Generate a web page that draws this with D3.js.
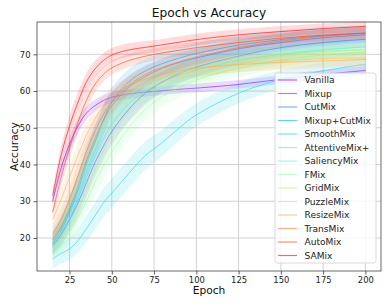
<!DOCTYPE html>
<html>
<head>
<meta charset="utf-8">
<script src="https://cdn.jsdelivr.net/npm/d3@7"></script>
<style>
  body { margin: 0; background: #fff; }
  svg { display: block; font-family: "DejaVu Sans", sans-serif; }
</style>
</head>
<body>
<svg id="chart" width="389" height="306"></svg>
<script>
// epochs at which accuracy was read
var epochs = [15, 20, 25, 30, 35, 40, 45, 50, 60, 70, 80, 90, 100, 125, 150, 175, 200];
var methods = ["Vanilla", "Mixup", "CutMix", "Mixup+CutMix", "SmoothMix", "AttentiveMix+", "SaliencyMix",
  "FMix", "GridMix", "PuzzleMix", "ResizeMix", "TransMix", "AutoMix", "SAMix"];
var xTicks = [25, 50, 75, 100, 125, 150, 175, 200];
var yTicks = [20, 30, 40, 50, 60, 70];

// mean accuracy per method
var vanilla      = [30, 39, 45.5, 50.5, 54, 56, 57.4, 58.3, 59.2, 59.7, 60.1, 60.5, 60.8, 61.8, 63.2, 64.5, 65.6];
var mixup        = [18, 21, 25, 29.5, 35, 40.5, 45, 49, 55, 59.5, 62.5, 64.8, 66.5, 69.5, 71.8, 73.2, 74.1];
var cutmix       = [19.5, 23, 28, 34, 41, 47, 52, 56, 61, 64, 66.2, 67.8, 69, 71.5, 73.2, 74.5, 75.3];
var mixupCutmix  = [18.5, 22, 27, 33, 40, 46, 52, 57, 62.5, 65.5, 67.5, 69, 70.2, 72.5, 74, 75, 75.7];
var smoothmix    = [14.3, 15.8, 17, 19.3, 22.5, 26, 29.5, 32.2, 37.5, 42.5, 46, 50, 53.5, 59.4, 63.2, 65.5, 67.3];
var attentive    = [17.5, 20.5, 25, 30.5, 36.5, 42, 47, 51, 56.5, 60, 62.5, 64.3, 65.7, 68.3, 70, 71.2, 72];
var saliencymix  = [19.5, 23.5, 28.5, 34, 40, 45.5, 50, 53.5, 58.5, 61.5, 63.5, 65, 66.3, 68.5, 70, 70.8, 71.3];
var fmix         = [16, 18.5, 21.5, 25.5, 30, 35, 39.5, 43.5, 50, 55, 58.5, 61, 63, 66.3, 68.5, 69.8, 70.6];
var gridmix      = [17, 19.5, 23, 27.5, 33, 38.5, 43.5, 48, 54.5, 58.5, 61.3, 63.3, 64.8, 67.5, 69.3, 70.5, 71.3];
var puzzlemix    = [20, 24.5, 30, 36, 42, 47, 51.5, 55, 59.5, 62, 63.8, 65, 66, 67.5, 68.3, 68.8, 69];
var resizemix    = [25, 30.5, 36.5, 42.5, 48, 52.5, 56, 58.5, 61.5, 63.3, 64.5, 65.5, 66.2, 67.2, 67.8, 68.2, 68.6];
var transmix     = [21, 25, 30.5, 37, 43.5, 49, 53.5, 57, 61.5, 64.5, 66.5, 68, 69.3, 71.8, 73.6, 74.9, 75.8];
var automix      = [27, 36.5, 44.5, 51.5, 57.5, 61.8, 64.5, 66.3, 68.3, 69.5, 70.4, 71.1, 71.8, 73.2, 74.4, 75.2, 75.8];
var samix        = [31.5, 42.5, 50.5, 57, 62.5, 66, 68.3, 69.8, 71.2, 71.9, 72.6, 73.3, 74, 75.3, 76.2, 77, 77.6];

// standard deviation per method
var vanillaStd     = [1.3, 1.8, 2.0, 2.0, 1.8, 1.6, 1.5, 1.4, 1.3, 1.2, 1.2, 1.2, 1.2, 1.2, 1.2, 1.2, 1.2];
var mixupStd       = [2.5, 3.0, 3.3, 3.6, 3.8, 3.8, 3.7, 3.5, 3.2, 3.0, 2.8, 2.7, 2.6, 2.5, 2.4, 2.3, 2.2];
var cutmixStd      = [2.5, 3.0, 3.3, 3.6, 3.8, 3.8, 3.7, 3.5, 3.2, 3.0, 2.8, 2.7, 2.6, 2.5, 2.4, 2.3, 2.2];
var mixupCutmixStd = [2.5, 3.2, 3.6, 4.0, 4.2, 4.2, 4.0, 3.8, 3.5, 3.2, 3.0, 2.9, 2.8, 2.6, 2.5, 2.4, 2.3];
var smoothmixStd   = [2.6, 2.8, 3.0, 3.3, 3.6, 3.8, 4.0, 4.0, 4.0, 3.8, 3.6, 3.4, 3.2, 2.8, 2.5, 2.2, 2.0];
var attentiveStd   = [2.5, 3.0, 3.3, 3.6, 3.8, 3.8, 3.7, 3.5, 3.2, 3.0, 2.8, 2.7, 2.6, 2.5, 2.4, 2.3, 2.2];
var saliencymixStd = [2.5, 3.0, 3.3, 3.6, 3.8, 3.8, 3.7, 3.5, 3.2, 3.0, 2.8, 2.7, 2.6, 2.5, 2.4, 2.3, 2.2];
var fmixStd        = [2.2, 2.6, 3.0, 3.3, 3.5, 3.6, 3.6, 3.5, 3.2, 3.0, 2.8, 2.7, 2.6, 2.5, 2.4, 2.3, 2.2];
var gridmixStd     = [2.2, 2.6, 3.0, 3.3, 3.5, 3.6, 3.6, 3.5, 3.2, 3.0, 2.8, 2.7, 2.6, 2.5, 2.4, 2.3, 2.2];
var puzzlemixStd   = [2.5, 3.0, 3.3, 3.5, 3.5, 3.4, 3.2, 3.0, 2.8, 2.6, 2.5, 2.4, 2.4, 2.3, 2.2, 2.2, 2.2];
var resizemixStd   = [2.5, 3.0, 3.2, 3.3, 3.2, 3.0, 2.8, 2.6, 2.4, 2.3, 2.2, 2.2, 2.2, 2.1, 2.1, 2.0, 2.0];
var transmixStd    = [2.5, 3.0, 3.3, 3.5, 3.5, 3.3, 3.0, 2.8, 2.5, 2.3, 2.2, 2.1, 2.0, 2.0, 1.9, 1.9, 1.9];
var automixStd     = [1.5, 2.5, 2.8, 2.8, 2.5, 2.2, 2.0, 1.9, 1.8, 1.7, 1.6, 1.6, 1.6, 1.5, 1.5, 1.5, 1.5];
var samixStd       = [1.5, 2.5, 2.8, 2.8, 2.5, 2.2, 2.0, 1.9, 1.8, 1.7, 1.6, 1.6, 1.6, 1.5, 1.5, 1.4, 1.4];

var means = [vanilla, mixup, cutmix, mixupCutmix, smoothmix, attentive, saliencymix,
  fmix, gridmix, puzzlemix, resizemix, transmix, automix, samix];
var stds = [vanillaStd, mixupStd, cutmixStd, mixupCutmixStd, smoothmixStd, attentiveStd, saliencymixStd,
  fmixStd, gridmixStd, puzzlemixStd, resizemixStd, transmixStd, automixStd, samixStd];

// matplotlib "rainbow" colormap
function rainbow(t) {
  var clip = function(v) { return Math.max(0, Math.min(1, v)); };
  var r = clip(Math.abs(2 * t - 0.5)), g = clip(Math.sin(t * Math.PI)), b = clip(Math.cos(t * Math.PI / 2));
  return d3.rgb(r * 255, g * 255, b * 255).formatHex();
}

function draw() {
  var series = methods.map(function(name, i) {
    return {
      name: name,
      color: rainbow(i / (methods.length - 1)),
      points: epochs.map(function(e, j) { return {e: e, m: means[i][j], s: stds[i][j]}; })
    };
  });

  var svg = d3.select("#chart");
  var pLeft = 37, pRight = 381, pTop = 22, pBottom = 271;

  var x = d3.scaleLinear().domain([5.75, 209.25]).range([pLeft, pRight]);
  var y = d3.scaleLinear().domain([11, 78.8]).range([pBottom, pTop]);

  // grid
  svg.append("g").selectAll("line").data(xTicks).enter().append("line")
    .attr("x1", function(d) { return x(d); }).attr("x2", function(d) { return x(d); })
    .attr("y1", pTop).attr("y2", pBottom)
    .attr("stroke", "#d2d2d2").attr("stroke-width", 1);
  svg.append("g").selectAll("line").data(yTicks).enter().append("line")
    .attr("y1", function(d) { return y(d); }).attr("y2", function(d) { return y(d); })
    .attr("x1", pLeft).attr("x2", pRight)
    .attr("stroke", "#d2d2d2").attr("stroke-width", 1);

  var curve = d3.curveCatmullRom.alpha(0.5);
  var area = d3.area()
    .x(function(d) { return x(d.e); })
    .y0(function(d) { return y(d.m - d.s); })
    .y1(function(d) { return y(d.m + d.s); })
    .curve(curve);
  var line = d3.line()
    .x(function(d) { return x(d.e); })
    .y(function(d) { return y(d.m); })
    .curve(curve);

  var plot = svg.append("g");
  series.forEach(function(s) {
    plot.append("path").datum(s.points)
      .attr("d", area).attr("fill", s.color).attr("fill-opacity", 0.14).attr("stroke", "none");
    plot.append("path").datum(s.points)
      .attr("d", line).attr("fill", "none").attr("stroke", s.color)
      .attr("stroke-opacity", 0.6).attr("stroke-width", 1);
  });

  // axes
  var xAxis = svg.append("g").attr("transform", "translate(0," + pBottom + ")")
    .call(d3.axisBottom(x).tickValues(xTicks).tickSize(3.5).tickPadding(3));
  var yAxis = svg.append("g").attr("transform", "translate(" + pLeft + ",0)")
    .call(d3.axisLeft(y).tickValues(yTicks).tickSize(3.5).tickPadding(3));
  [xAxis, yAxis].forEach(function(a) {
    a.select(".domain").remove();
    a.selectAll("line").attr("stroke", "#333").attr("stroke-width", 0.8);
    a.selectAll("text").attr("font-size", 8.4).attr("fill", "#222").attr("font-family", "DejaVu Sans");
  });

  // frame
  svg.append("rect").attr("x", pLeft).attr("y", pTop)
    .attr("width", pRight - pLeft).attr("height", pBottom - pTop)
    .attr("fill", "none").attr("stroke", "#444").attr("stroke-width", 0.8);

  // labels
  svg.append("text").attr("x", (pLeft + pRight) / 2).attr("y", 16.5)
    .attr("text-anchor", "middle").attr("font-size", 12.2).attr("fill", "#111")
    .text("Epoch vs Accuracy");
  svg.append("text").attr("x", (pLeft + pRight) / 2).attr("y", 294)
    .attr("text-anchor", "middle").attr("font-size", 10.7).attr("fill", "#111")
    .text("Epoch");
  svg.append("text").attr("transform", "translate(17.5," + (pTop + pBottom) / 2 + ") rotate(-90)")
    .attr("text-anchor", "middle").attr("font-size", 10.7).attr("fill", "#111")
    .text("Accuracy");

  // legend
  var legend = svg.append("g").attr("transform", "translate(275,73)");
  legend.append("rect").attr("width", 101).attr("height", 190).attr("rx", 2.5)
    .attr("fill", "#fff").attr("fill-opacity", 0.8).attr("stroke", "#d0d0d0").attr("stroke-width", 0.8);
  var item = legend.selectAll("g.item").data(series).enter().append("g")
    .attr("class", "item")
    .attr("transform", function(d, i) { return "translate(0," + (7 + i * 13.5) + ")"; });
  item.append("line").attr("x1", 3).attr("x2", 22)
    .attr("stroke", function(d) { return d.color; }).attr("stroke-opacity", 0.6).attr("stroke-width", 1.2);
  item.append("text").attr("x", 29.5).attr("y", 3.3)
    .attr("font-size", 9.1).attr("fill", "#222")
    .text(function(d) { return d.name; });
}

draw();
</script>
</body>
</html>
